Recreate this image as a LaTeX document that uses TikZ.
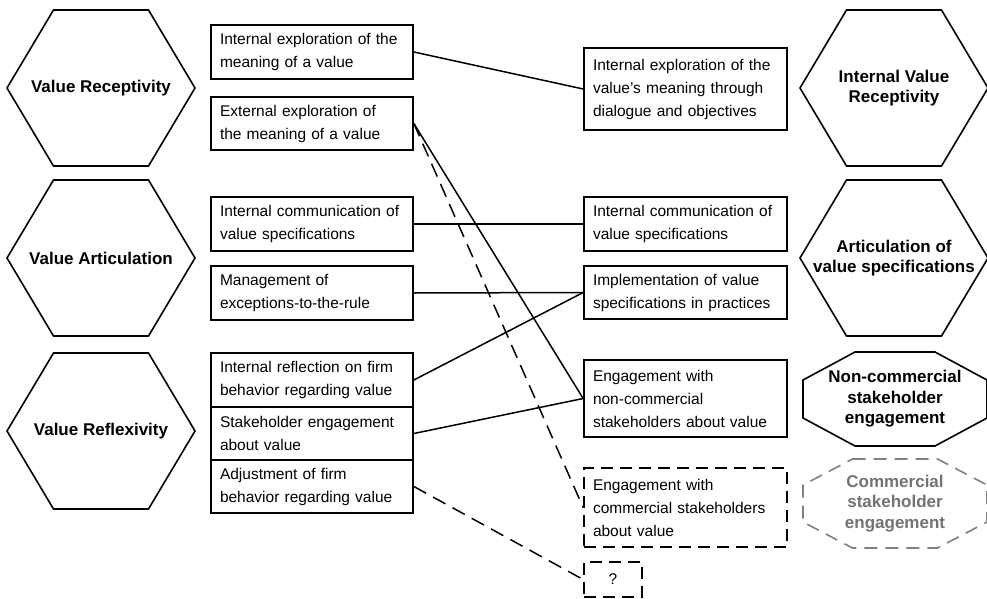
\documentclass[tikz,border=0pt]{standalone}
\usepackage{fontspec}
\setmainfont{Liberation Sans}
\begin{document}
\begin{tikzpicture}[x=1pt,y=-1pt,
  box/.style={draw, line width=1.7pt, text width=184pt, inner xsep=9pt, inner ysep=0pt,
    align=left, font=\fontsize{15.5pt}{23pt}\selectfont},
  rbox/.style={box, text width=185pt},
  dbox/.style={rbox, dash pattern=on 12pt off 7pt},
  shapetext/.style={align=center, inner sep=0pt, font=\bfseries\fontsize{17pt}{20.5pt}\selectfont},
  shapeline/.style={line width=1.6pt, line join=miter},
  conn/.style={line width=1.5pt},
  dconn/.style={conn, dash pattern=on 14pt off 8pt}]
\useasboundingbox (0,0) rectangle (987,599);

\newcommand\myhex[4]{%
  \draw[shapeline] (#2-94,#3) -- (#2-47.5,#3-78) -- (#2+47.5,#3-78) -- (#2+94,#3)
    -- (#2+47.5,#3+78) -- (#2-47.5,#3+78) -- cycle;
  \node[shapetext] (#1) at (#2,#3) {#4};}

% left hexagons
\myhex{hA}{101}{88}{Value Receptivity}
\myhex{hB}{101}{258}{Value Articulation}
\myhex{hC}{101}{431}{Value Reflexivity}
% right hexagons
\myhex{hD}{894}{88}{Internal Value\\Receptivity}
\myhex{hE}{894}{258}{Articulation of\\value specifications}

% octagons
\draw[shapeline] (855,352) -- (935,352) -- (987,380) -- (987,418) -- (935,446)
  -- (855,446) -- (803,418) -- (803,380) -- cycle;
\node[shapetext] (oA) at (895,399) {Non-commercial\\stakeholder\\engagement};
\draw[shapeline, black!50, dash pattern=on 13pt off 8pt] (852.5,459) -- (937.5,459) -- (987,485) -- (987,522) -- (937.5,548)
  -- (852.5,548) -- (803,522) -- (803,485) -- cycle;
\node[shapetext, text=black!55] (oB) at (895,503.5) {Commercial\\stakeholder\\engagement};

% left boxes
\node[box, minimum height=54pt] (L1) at (312,52) {Internal exploration of the\\meaning of a value};
\node[box, minimum height=53pt] (L2) at (312,123.5) {External exploration of\\the meaning of a value};
\node[box, minimum height=54pt] (L3) at (312,224) {Internal communication of\\value specifications};
\node[box, minimum height=54pt] (L4) at (312,293) {Management of\\exceptions-to-the-rule};
\node[box, minimum height=54pt] (L5) at (312,380) {Internal reflection on firm\\behavior regarding value};
\node[box, minimum height=53pt] (L6) at (312,433.5) {Stakeholder engagement\\about value};
\node[box, minimum height=53pt] (L7) at (312,486.5) {Adjustment of firm\\behavior regarding value};

% right boxes
\node[rbox, minimum height=82pt] (R1) at (685.5,89) {Internal exploration of the\\value's meaning through\\dialogue and objectives};
\node[rbox, minimum height=54pt] (R2) at (685.5,224) {Internal communication of\\value specifications};
\node[rbox, minimum height=53pt] (R3) at (685.5,292.5) {Implementation of value\\specifications in practices};
\node[rbox, minimum height=77pt] (R4) at (685.5,398.5) {Engagement with\\non-commercial\\stakeholders about value};
\node[dbox, minimum height=79pt] (R5) at (685.5,507.5) {Engagement with\\commercial stakeholders\\about value};
\node[draw, line width=1.7pt, dash pattern=on 12pt off 7pt, minimum width=58pt, minimum height=35pt,
  inner sep=0pt, font=\fontsize{15.5pt}{23pt}\selectfont] (Q) at (613,579.5) {?};

% connectors
\draw[conn] (L1.east) -- (R1.west);
\draw[conn] (L2.east) -- (R4.west);
\draw[dconn] (L2.east) -- (R5.west);
\draw[conn] (L3.east) -- (R2.west);
\draw[conn] (L4.east) -- (R3.west);
\draw[conn] (L5.east) -- (R3.west);
\draw[conn] (L6.east) -- (R4.west);
\draw[dconn] (L7.east) -- (Q.west);
\end{tikzpicture}
\end{document}
